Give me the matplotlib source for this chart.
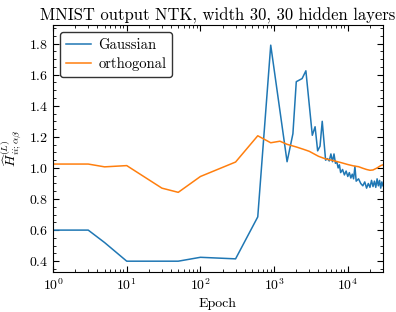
import numpy as np
import matplotlib
matplotlib.use('Agg')
import matplotlib.pyplot as plt
from matplotlib.ticker import MultipleLocator

plt.rcParams['font.family'] = 'serif'
plt.rcParams['font.serif'] = ['cmr10', 'DejaVu Serif']
plt.rcParams['mathtext.fontset'] = 'cm'
plt.rcParams['axes.formatter.use_mathtext'] = True
plt.rcParams['font.size'] = 10

# Gaussian init
gauss_epoch = [1, 3, 5, 10, 50, 100, 300, 600, 900, 1500, 1800, 2000, 2400, 2700,
               3300, 3600, 3900, 4200, 4500, 5000, 5300, 5600, 5900, 6200, 6500,
               6800, 7100, 7400, 7700, 8000, 8500, 9000, 9500, 10000, 10500, 11000,
               11500, 12000, 12500, 13000, 14000, 15000, 16000, 17000, 18000, 19000,
               20000, 21000, 22000, 23000, 24000, 25000, 26000, 27000, 28000, 29000, 30000]
gauss_val = [0.60, 0.60, 0.52, 0.40, 0.40, 0.425, 0.415, 0.685, 1.79, 1.04, 1.22, 1.555,
             1.575, 1.625, 1.21, 1.265, 1.11, 1.14, 1.30, 1.05, 1.06, 1.045, 1.09, 1.04,
             1.09, 1.03, 1.04, 1.0, 1.02, 0.97, 0.99, 0.955, 0.98, 0.945, 0.97, 0.935,
             0.96, 0.93, 1.01, 0.915, 0.93, 0.90, 0.885, 0.91, 0.87, 0.90, 0.875, 0.92,
             0.88, 0.915, 0.875, 0.93, 0.885, 0.92, 0.87, 0.91, 0.885]

# orthogonal init
orth_epoch = [1, 3, 5, 10, 30, 50, 100, 300, 600, 900, 1200, 1500, 2000, 2500, 3000,
              4000, 5000, 6000, 7000, 8000, 10000, 12000, 14000, 16000, 18000, 20000,
              22000, 25000, 28000, 30000]
orth_val = [1.025, 1.025, 1.007, 1.015, 0.87, 0.843, 0.945, 1.038, 1.207, 1.162, 1.172,
            1.152, 1.135, 1.12, 1.107, 1.075, 1.058, 1.05, 1.042, 1.035, 1.022, 1.013,
            1.008, 0.998, 0.99, 0.985, 0.987, 1.0, 1.015, 1.02]

fig = plt.figure(figsize=(3.96, 3.12), dpi=100)
ax = fig.add_axes([0.134, 0.128, 0.833, 0.792])

ax.plot(gauss_epoch, gauss_val, color='#1f77b4', lw=1.1, label='Gaussian')
ax.plot(orth_epoch, orth_val, color='#ff7f0e', lw=1.1, label='orthogonal')

ax.set_xscale('log')
ax.set_xlim(1, 3e4)
ax.set_ylim(0.33, 1.92)
ax.yaxis.set_major_locator(MultipleLocator(0.2))
ax.yaxis.set_minor_locator(MultipleLocator(0.05))
ax.tick_params(which='both', direction='in', top=True, right=True)
ax.tick_params(which='major', length=4)
ax.tick_params(which='minor', length=2)

ax.set_xlabel('Epoch')
ax.set_ylabel(r'$\widehat{H}^{(L)}_{ii;\alpha\beta}$')
ax.set_title('MNIST output NTK, width 30, 30 hidden layers', fontsize=12, pad=3)
ax.legend(loc='upper left', frameon=True, edgecolor='#333333', fancybox=True,
          fontsize=10.5, handlelength=1.7, handletextpad=0.5, labelspacing=0.4,
          framealpha=1.0)

fig.savefig('out.png', dpi=100)
